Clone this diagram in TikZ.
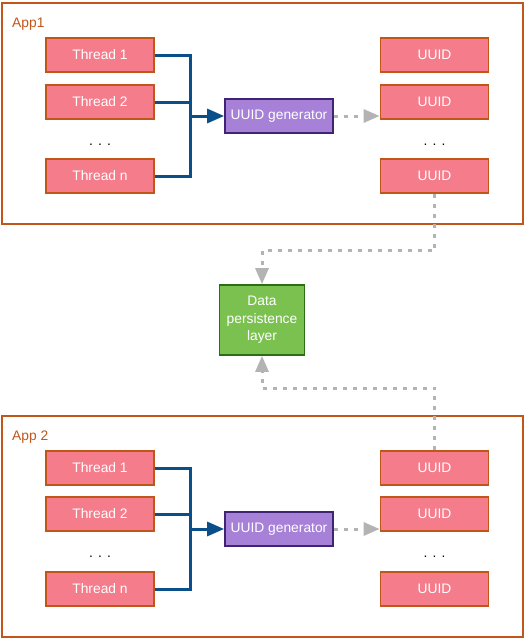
\documentclass[tikz,border=0pt]{standalone}
\usepackage{fontspec}
\setmainfont{Liberation Sans}
\usepackage{tikz}
\usetikzlibrary{arrows.meta,positioning,calc}
\definecolor{appEdge}{HTML}{C0561A}
\definecolor{thrFill}{HTML}{F47C8B}
\definecolor{genFill}{HTML}{A780D7}
\definecolor{genEdge}{HTML}{3F2473}
\definecolor{dbFill}{HTML}{7BC14F}
\definecolor{dbEdge}{HTML}{2D6E14}
\definecolor{linkBlue}{HTML}{0B4F8A}
\definecolor{linkGray}{HTML}{B3B3B3}

\begin{document}
\begin{tikzpicture}[
  x=1pt,y=-1pt,
  font=\fontsize{13.8}{16}\selectfont,
  app/.style={draw=appEdge,line width=1.8pt},
  lbl/.style={text=appEdge,anchor=base west,inner sep=0pt},
  thr/.style={draw=appEdge,line width=1.7pt,fill=thrFill,text=white,
              minimum width=108pt,minimum height=34pt,inner sep=0pt},
  gen/.style={draw=genEdge,line width=1.7pt,fill=genFill,text=white,
              minimum width=108pt,minimum height=34pt,inner sep=0pt},
  db/.style={draw=dbEdge,line width=1.7pt,fill=dbFill,text=white,align=center,
             minimum width=85pt,minimum height=70pt,inner sep=0pt,
             font=\fontsize{13.8}{17.5}\selectfont},
  dots/.style={inner sep=0pt,anchor=base},
  blu/.style={draw=linkBlue,line width=3pt},
  bluarr/.style={blu,-{Triangle[length=17pt,width=14pt]}},
  gry/.style={draw=linkGray,line width=3pt,dash pattern=on 4pt off 6pt},
  gryarr/.style={gry,-{Triangle[length=16pt,width=13pt]}}
]
\useasboundingbox (0,0) rectangle (525,641);

% App1
\draw[app] (2,3) rectangle (523,224);
\node[lbl] (a1) at (12,27) {App1};
\node[thr] (t11) at (100,55)  {Thread 1};
\node[thr] (t12) at (100,102) {Thread 2};
\node[dots] (t1d) at (100,145) {. . .};
\node[thr] (t1n) at (100,176) {Thread n};
\node[gen] (g1) at (279,116) {UUID generator};
\node[thr] (u11) at (434.5,55)  {UUID};
\node[thr] (u12) at (434.5,102) {UUID};
\node[dots] (u1d) at (434.5,145) {. . .};
\node[thr] (u1n) at (434.5,176) {UUID};
\coordinate (j1) at (190,116);
\draw[blu] (t11.east) -| (j1);
\draw[blu] (t12.east) -| (j1);
\draw[blu] (t1n.east) -| (j1);
\draw[bluarr] (j1) -- (g1.west);
\draw[gryarr] (g1.east) -- (g1.east -| u12.west);

% persistence
\node[db] (dp) at (262,320) {Data\\persistence\\layer};
\draw[gryarr] (u1n.south) -- ++(0,57) -| (dp.north);

% App 2
\draw[app] (2,416) rectangle (523,637);
\node[lbl] (a2) at (12,440) {App 2};
\node[thr] (t21) at (100,468) {Thread 1};
\node[thr] (t22) at (100,514) {Thread 2};
\node[dots] (t2d) at (100,557) {. . .};
\node[thr] (t2n) at (100,589) {Thread n};
\node[gen] (g2) at (279,529) {UUID generator};
\node[thr] (u21) at (434.5,468) {UUID};
\node[thr] (u22) at (434.5,514) {UUID};
\node[dots] (u2d) at (434.5,557) {. . .};
\node[thr] (u2n) at (434.5,589) {UUID};
\coordinate (j2) at (190,529);
\draw[blu] (t21.east) -| (j2);
\draw[blu] (t22.east) -| (j2);
\draw[blu] (t2n.east) -| (j2);
\draw[bluarr] (j2) -- (g2.west);
\draw[gryarr] (g2.east) -- (g2.east -| u22.west);
\draw[gryarr] (u21.north) -- ++(0,-62) -| (dp.south);
\end{tikzpicture}
\end{document}
